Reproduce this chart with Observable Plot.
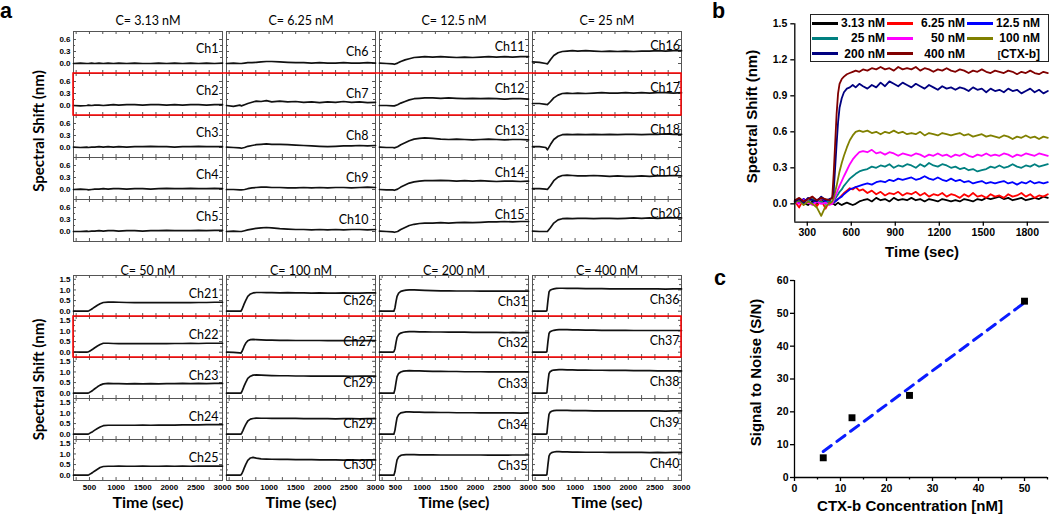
<!DOCTYPE html>
<html><head><meta charset="utf-8">
<script src="https://cdn.jsdelivr.net/npm/d3@7"></script>
<script src="https://cdn.jsdelivr.net/npm/@observablehq/plot@0.6"></script>
<style>
body{margin:0;background:#fff}
#root{position:relative;width:1050px;height:519px;overflow:hidden;background:#fff}
.pane{position:absolute}
.letter{position:absolute;font:bold 21.5px "Liberation Sans",Arial,sans-serif;line-height:1;color:#000}
#legend{position:absolute;left:810px;top:14px;width:239px;height:48px;border:1px solid #222;box-sizing:border-box;font:bold 12px "Liberation Sans",Arial,sans-serif;display:grid;grid-template-columns:75px 80px 75px;grid-auto-rows:15.3px;padding-top:0.5px;background:#fff}
.item{display:flex;align-items:center;justify-content:space-between;padding-right:1px}
.sw{width:26px;height:3px;margin-left:1px}
</style></head>
<body><div id="root">
<div id="aTop" class="pane" style="left:0;top:0"></div>
<div id="aBot" class="pane" style="left:0;top:245px"></div>
<div id="pB" class="pane" style="left:700px;top:0"></div>
<div id="pC" class="pane" style="left:700px;top:270px"></div>
<div id="legend"></div>
<div class="letter" style="left:0px;top:1.3px">a</div>
<div class="letter" style="left:712px;top:1px">b</div>
<div class="letter" style="left:714px;top:267.8px">c</div>
</div>
<script>
// ---------- Panel a data ----------
const colsTop = ["C= 3.13 nM", "C= 6.25 nM", "C= 12.5 nM", "C= 25 nM"];
const colsBot = ["C= 50 nM", "C= 100 nM", "C= 200 nM", "C= 400 nM"];
const chTop = [["Ch1","Ch2","Ch3","Ch4","Ch5"],["Ch6","Ch7","Ch8","Ch9","Ch10"],["Ch11","Ch12","Ch13","Ch14","Ch15"],["Ch16","Ch17","Ch18","Ch19","Ch20"]];
const chBot = [["Ch21","Ch22","Ch23","Ch24","Ch25"],["Ch26","Ch27","Ch29","Ch29","Ch30"],["Ch31","Ch32","Ch33","Ch34","Ch35"],["Ch36","Ch37","Ch38","Ch39","Ch40"]];
const yTicksTop = [0, 0.3, 0.6];
const yTicksBot = [0, 0.5, 1.0, 1.5];
const xTicksBot = [500, 1000, 1500, 2000, 2500, 3000];
const xTickMarks = [250, 500, 750, 1000, 1250, 1500, 1750, 2000, 2250, 2500, 2750];

const tA = [200, 330, 450, 480, 540, 600, 680, 760, 850, 950, 1050, 1200, 1350, 1500, 1650, 1800, 1950, 2100, 2250, 2400, 2550, 2700, 2850, 3000];
const traces313 = [
  [0.00,0.01,0.00,0.00,0.01,0.00,0.01,0.00,0.01,0.00,0.01,0.00,0.01,0.00,0.00,0.01,0.00,0.01,0.00,0.01,0.00,0.01,0.00,0.01],
  [0.00,-0.01,0.00,0.01,0.00,0.01,0.01,0.00,0.01,0.02,0.01,0.02,0.02,0.01,0.02,0.02,0.01,0.02,0.01,0.02,0.02,0.01,0.02,0.02],
  [0.01,0.00,0.01,0.00,0.01,0.01,0.02,0.01,0.02,0.01,0.02,0.01,0.02,0.02,0.03,0.02,0.02,0.01,0.02,0.02,0.03,0.02,0.02,0.02],
  [0.00,0.01,0.00,-0.01,0.00,0.01,0.01,0.02,0.01,0.02,0.02,0.01,0.02,0.02,0.01,0.02,0.03,0.02,0.02,0.03,0.02,0.02,0.03,0.02],
  [0.00,0.00,0.01,0.00,0.01,0.01,0.02,0.01,0.02,0.02,0.01,0.02,0.02,0.01,0.02,0.02,0.03,0.02,0.02,0.02,0.03,0.02,0.03,0.03]
];
const traces625 = [
  [0.00,0.01,0.00,0.00,0.01,0.02,0.02,0.03,0.04,0.05,0.05,0.04,0.03,0.02,0.02,0.01,0.02,0.01,0.01,0.02,0.01,0.01,0.02,0.01],
  [0.00,-0.02,0.01,-0.01,0.02,0.05,0.08,0.11,0.10,0.12,0.09,0.11,0.09,0.10,0.08,0.09,0.07,0.09,0.08,0.10,0.08,0.09,0.07,0.08],
  [0.01,0.00,-0.01,-0.02,0.00,0.03,0.05,0.07,0.08,0.09,0.08,0.08,0.07,0.06,0.05,0.04,0.03,0.02,0.03,0.04,0.04,0.05,0.04,0.05],
  [0.00,0.00,-0.01,-0.01,0.00,0.02,0.04,0.05,0.06,0.06,0.05,0.05,0.04,0.04,0.05,0.04,0.05,0.04,0.05,0.05,0.04,0.05,0.06,0.05],
  [0.00,0.01,0.00,0.00,0.02,0.04,0.06,0.08,0.09,0.10,0.09,0.07,0.06,0.05,0.05,0.04,0.05,0.04,0.05,0.04,0.05,0.05,0.04,0.05]
];
const traces125 = [
  [0.01,0.00,-0.01,-0.02,0.01,0.05,0.09,0.12,0.15,0.16,0.17,0.16,0.17,0.16,0.15,0.16,0.15,0.16,0.17,0.16,0.17,0.16,0.17,0.17],
  [0.00,0.00,-0.01,-0.01,0.02,0.06,0.10,0.14,0.17,0.18,0.19,0.19,0.18,0.19,0.18,0.17,0.18,0.17,0.18,0.17,0.16,0.17,0.17,0.16],
  [0.01,0.00,0.00,-0.01,0.02,0.07,0.12,0.17,0.21,0.23,0.24,0.23,0.21,0.20,0.21,0.20,0.19,0.20,0.21,0.20,0.19,0.20,0.20,0.19],
  [0.00,-0.01,-0.01,-0.02,0.01,0.06,0.11,0.16,0.19,0.21,0.22,0.22,0.23,0.22,0.21,0.22,0.21,0.22,0.21,0.20,0.21,0.21,0.20,0.21],
  [0.01,0.00,-0.01,-0.02,0.00,0.05,0.10,0.15,0.18,0.20,0.21,0.21,0.22,0.21,0.22,0.23,0.22,0.23,0.24,0.24,0.25,0.24,0.25,0.25]
];
const traces25 = [
  [0.04,0.03,0.00,-0.01,0.10,0.20,0.27,0.30,0.31,0.32,0.31,0.32,0.31,0.30,0.31,0.30,0.31,0.30,0.31,0.31,0.32,0.31,0.32,0.32],
  [0.05,0.05,0.03,0.02,0.10,0.19,0.26,0.30,0.31,0.30,0.31,0.30,0.31,0.32,0.31,0.31,0.32,0.31,0.32,0.31,0.32,0.32,0.31,0.32],
  [0.02,0.02,0.00,-0.06,0.08,0.20,0.28,0.32,0.33,0.32,0.33,0.32,0.33,0.32,0.33,0.32,0.33,0.33,0.32,0.33,0.33,0.34,0.33,0.33],
  [0.02,0.02,0.01,0.00,0.10,0.22,0.31,0.35,0.36,0.35,0.34,0.34,0.35,0.34,0.33,0.34,0.33,0.33,0.34,0.33,0.34,0.34,0.35,0.34],
  [0.01,0.00,0.00,0.00,0.10,0.21,0.29,0.32,0.33,0.32,0.33,0.33,0.32,0.33,0.33,0.32,0.33,0.34,0.33,0.34,0.33,0.34,0.34,0.34]
];

const tB = [200, 330, 450, 470, 490, 510, 530, 560, 600, 650, 700, 760, 850, 950, 1050, 1200, 1350, 1500, 1650, 1800, 1950, 2100, 2250, 2400, 2550, 2700, 2850, 3000];
const traces50 = [
  [0.00,0.01,0.00,0.00,0.02,0.05,0.08,0.13,0.20,0.28,0.35,0.41,0.43,0.43,0.42,0.41,0.40,0.40,0.40,0.40,0.40,0.40,0.41,0.40,0.41,0.41,0.42,0.42],
  [0.01,0.00,0.00,0.01,0.03,0.06,0.09,0.14,0.21,0.29,0.36,0.42,0.42,0.41,0.40,0.40,0.41,0.40,0.40,0.41,0.40,0.41,0.41,0.42,0.41,0.42,0.42,0.42],
  [0.00,0.00,0.01,0.00,0.02,0.05,0.08,0.13,0.21,0.30,0.38,0.44,0.46,0.45,0.45,0.44,0.45,0.44,0.45,0.44,0.45,0.45,0.46,0.45,0.46,0.45,0.46,0.46],
  [0.00,0.00,0.00,0.00,0.02,0.05,0.08,0.12,0.19,0.27,0.34,0.40,0.42,0.42,0.42,0.42,0.42,0.43,0.42,0.43,0.43,0.43,0.44,0.44,0.44,0.45,0.45,0.45],
  [0.00,0.00,0.00,0.00,0.02,0.05,0.08,0.13,0.20,0.28,0.36,0.41,0.42,0.42,0.43,0.42,0.42,0.43,0.42,0.42,0.43,0.42,0.43,0.42,0.43,0.43,0.43,0.43]
];
const traces100 = [
  [0.00,0.01,0.00,0.00,0.08,0.20,0.33,0.50,0.70,0.81,0.86,0.88,0.88,0.87,0.87,0.86,0.87,0.86,0.86,0.85,0.86,0.85,0.85,0.86,0.85,0.85,0.86,0.86],
  [0.00,-0.01,-0.03,-0.05,0.03,0.14,0.27,0.42,0.54,0.59,0.60,0.59,0.58,0.57,0.57,0.56,0.56,0.55,0.55,0.55,0.55,0.54,0.55,0.54,0.54,0.55,0.54,0.55],
  [0.00,0.00,0.00,0.00,0.08,0.20,0.33,0.50,0.70,0.80,0.85,0.86,0.85,0.84,0.83,0.82,0.82,0.81,0.81,0.80,0.81,0.80,0.80,0.80,0.79,0.80,0.80,0.80],
  [0.00,0.00,0.00,0.00,0.07,0.18,0.30,0.45,0.62,0.71,0.74,0.76,0.75,0.75,0.74,0.74,0.74,0.74,0.73,0.73,0.73,0.73,0.72,0.73,0.73,0.72,0.73,0.73],
  [0.00,0.00,0.00,0.01,0.08,0.19,0.32,0.50,0.70,0.81,0.84,0.80,0.77,0.76,0.75,0.74,0.74,0.73,0.73,0.73,0.72,0.72,0.72,0.71,0.72,0.71,0.72,0.72]
];
const traces200 = [
  [0.00,0.00,0.00,0.00,0.15,0.45,0.70,0.85,0.93,0.97,0.99,1.00,1.00,0.99,0.98,0.97,0.96,0.96,0.95,0.95,0.95,0.94,0.95,0.94,0.94,0.94,0.94,0.94],
  [0.00,0.01,0.00,0.02,0.15,0.45,0.70,0.83,0.90,0.94,0.96,0.97,0.97,0.96,0.96,0.95,0.95,0.94,0.94,0.94,0.93,0.93,0.93,0.93,0.92,0.93,0.92,0.92],
  [0.00,0.00,0.00,0.00,0.18,0.50,0.78,0.93,1.00,1.04,1.05,1.06,1.05,1.05,1.04,1.03,1.03,1.02,1.02,1.01,1.01,1.01,1.00,1.00,1.00,1.00,1.00,1.00],
  [0.00,0.00,0.00,0.00,0.18,0.50,0.78,0.92,1.00,1.03,1.05,1.05,1.04,1.04,1.03,1.03,1.02,1.02,1.01,1.01,1.01,1.00,1.00,1.00,1.00,1.00,0.99,1.00],
  [0.00,0.00,0.00,0.00,0.16,0.46,0.72,0.86,0.93,0.96,0.97,0.97,0.97,0.96,0.96,0.96,0.95,0.95,0.95,0.95,0.95,0.95,0.94,0.95,0.94,0.95,0.95,0.95]
];
const traces400 = [
  [0.00,0.00,0.00,0.02,0.50,0.90,0.98,1.02,1.05,1.07,1.08,1.08,1.07,1.07,1.07,1.06,1.06,1.06,1.05,1.05,1.05,1.05,1.05,1.05,1.05,1.04,1.05,1.05],
  [0.00,0.00,0.00,0.02,0.50,0.88,0.96,1.00,1.03,1.05,1.06,1.06,1.06,1.05,1.05,1.04,1.04,1.03,1.03,1.03,1.03,1.02,1.02,1.02,1.02,1.02,1.02,1.02],
  [0.00,0.00,0.00,0.02,0.52,0.92,1.01,1.06,1.09,1.10,1.11,1.11,1.10,1.10,1.09,1.09,1.08,1.08,1.07,1.07,1.07,1.06,1.06,1.06,1.05,1.05,1.05,1.05],
  [0.00,0.00,0.00,0.02,0.52,0.93,1.03,1.08,1.11,1.12,1.12,1.12,1.12,1.11,1.11,1.11,1.10,1.10,1.10,1.10,1.10,1.10,1.10,1.10,1.10,1.09,1.10,1.10],
  [0.00,0.00,0.00,0.02,0.50,0.90,1.00,1.06,1.09,1.11,1.11,1.10,1.10,1.09,1.09,1.08,1.08,1.08,1.07,1.07,1.07,1.07,1.07,1.06,1.07,1.06,1.07,1.07]
];

// ---------- Panel b data ----------
const bNames = ["3.13 nM", "6.25 nM", "12.5 nM", "25 nM", "50 nM", "100 nM", "200 nM", "400 nM"];
const bColors = ["#000000", "#ff0000", "#0000ff", "#008080", "#ff00ff", "#808000", "#000080", "#800000"];
const bXTicks = [300, 600, 900, 1200, 1500, 1800];
const bYTicks = [0, 0.3, 0.6, 0.9, 1.2, 1.5];
const tb = [215,245,275,305,335,365,395,425,450,470, 480,490,500,510,520,535,550,570,590,610, 630,655,680,
  710,740,770,800,830,860,890,920,950,980, 1010,1040,1070,1100,1130,1160,1190,1220,1250,1280,
  1310,1340,1370,1400,1430,1460,1490,1520,1550,1580, 1610,1640,1670,1700,1730,1760,1790,1820,1850,1880, 1910,1940];
const s313 = [0.02,0.03,0.01,-0.01,0.02,0.00,0.03,0.01,0.02,0.00, 0.00,-0.01,0.00,0.01,0.00,-0.01,0.00,0.01,0.00,-0.01, 0.00,0.02,0.03,
  0.04,0.02,0.05,0.03,0.04,0.02,0.05,0.03,0.04,0.03, 0.05,0.03,0.04,0.02,0.04,0.03,0.02,0.04,0.03,0.02,
  0.03,0.02,0.04,0.03,0.02,0.04,0.03,0.05,0.04,0.05, 0.06,0.04,0.05,0.03,0.04,0.05,0.03,0.04,0.05,0.04, 0.06,0.05];
const s625 = [0.02,-0.03,0.04,0.01,0.06,-0.02,0.03,-0.04,0.02,0.00, 0.01,0.02,0.03,0.04,0.05,0.07,0.09,0.11,0.13,0.12, 0.14,0.11,0.12,
  0.09,0.11,0.08,0.10,0.07,0.09,0.08,0.10,0.07,0.09, 0.08,0.10,0.07,0.09,0.06,0.08,0.07,0.09,0.06,0.08,
  0.07,0.05,0.08,0.06,0.09,0.06,0.07,0.05,0.08,0.06, 0.07,0.05,0.08,0.06,0.07,0.09,0.06,0.08,0.05,0.07, 0.06,0.08];
const s125 = [0.03,0.01,0.04,0.02,0.00,0.03,0.05,0.02,0.03,0.01, 0.01,0.02,0.03,0.04,0.05,0.06,0.08,0.10,0.12,0.13, 0.14,0.15,0.16,
  0.17,0.16,0.18,0.19,0.18,0.20,0.19,0.21,0.20,0.21, 0.22,0.20,0.21,0.23,0.21,0.20,0.22,0.20,0.19,0.21,
  0.19,0.20,0.18,0.19,0.17,0.18,0.19,0.17,0.18,0.17, 0.18,0.19,0.17,0.18,0.16,0.18,0.17,0.19,0.17,0.18, 0.17,0.18];
const s25 = [0.01,0.03,0.00,0.02,0.04,0.01,0.02,0.00,0.03,0.01, 0.02,0.04,0.06,0.08,0.10,0.12,0.15,0.18,0.21,0.23, 0.25,0.27,0.28,
  0.29,0.31,0.30,0.32,0.31,0.33,0.30,0.32,0.31,0.33, 0.32,0.30,0.33,0.31,0.34,0.32,0.31,0.33,0.32,0.30,
  0.31,0.29,0.30,0.28,0.29,0.27,0.28,0.29,0.31,0.30, 0.32,0.30,0.31,0.33,0.31,0.30,0.32,0.31,0.33,0.31, 0.32,0.33];
const s50 = [0.02,0.00,0.03,0.01,-0.01,0.02,0.00,0.01,-0.01,0.00, 0.03,0.06,0.09,0.12,0.15,0.19,0.23,0.28,0.33,0.37, 0.40,0.43,0.44,
  0.43,0.45,0.42,0.43,0.41,0.43,0.42,0.40,0.42,0.41, 0.40,0.42,0.41,0.39,0.41,0.40,0.42,0.40,0.41,0.39,
  0.41,0.40,0.42,0.40,0.39,0.41,0.40,0.42,0.40,0.41, 0.40,0.42,0.41,0.39,0.41,0.40,0.42,0.41,0.40,0.42, 0.41,0.40];
const s100 = [0.01,0.03,-0.01,0.02,0.00,-0.03,-0.10,-0.02,0.00,0.02, 0.05,0.10,0.15,0.21,0.27,0.34,0.40,0.47,0.53,0.57, 0.60,0.61,0.60,
  0.61,0.59,0.60,0.58,0.60,0.59,0.61,0.59,0.60,0.58, 0.59,0.58,0.60,0.57,0.59,0.58,0.57,0.59,0.58,0.57,
  0.58,0.59,0.57,0.58,0.56,0.57,0.58,0.56,0.57,0.56, 0.55,0.57,0.56,0.54,0.56,0.55,0.57,0.55,0.56,0.54, 0.56,0.55];
const s200 = [0.02,0.04,0.01,0.05,0.03,0.02,0.06,0.03,0.04,0.05, 0.10,0.30,0.50,0.68,0.80,0.88,0.93,0.96,0.97,0.99, 0.97,1.00,0.98,
  0.96,0.99,0.97,1.01,0.98,1.02,1.00,0.98,1.01,0.99, 0.97,1.00,0.98,0.96,0.99,0.97,0.95,0.98,0.96,0.97,
  0.95,0.97,0.96,0.94,0.97,0.95,0.96,0.93,0.96,0.94, 0.95,0.93,0.96,0.94,0.95,0.92,0.94,0.96,0.93,0.95, 0.92,0.94];
const s400 = [0.03,0.05,0.02,0.04,0.06,0.03,0.05,0.04,0.03,0.05, 0.25,0.50,0.75,0.92,1.00,1.04,1.06,1.08,1.09,1.10, 1.11,1.10,1.12,
  1.11,1.13,1.12,1.14,1.12,1.13,1.11,1.14,1.12,1.13, 1.12,1.14,1.11,1.13,1.12,1.10,1.12,1.11,1.13,1.11,
  1.10,1.12,1.11,1.09,1.11,1.10,1.12,1.10,1.09,1.11, 1.10,1.09,1.11,1.10,1.08,1.10,1.09,1.11,1.09,1.08, 1.10,1.09];
const bSeries = [s313, s625, s125, s25, s50, s100, s200, s400];

// ---------- Panel c data ----------
const cConc = [6.25, 12.5, 25, 50];
const cSN = [6, 18.2, 25, 53.7];
const cXTicks = [0, 10, 20, 30, 40, 50];
const cXMinor = [5, 15, 25, 35, 45, 55];
const cYTicks = [0, 10, 20, 30, 40, 50, 60];

// ---------- helpers ----------
const FA = "Lato, 'Noto Sans', sans-serif";
const FB = "'Liberation Sans', Arial, sans-serif";
const FRAME = "#555";
const fmtInt = d3.format("d");

function gridRows(cols, chs, times, traceCols) {
  const rows = [], labels = [];
  traceCols.forEach((col, c) => col.forEach((vals, r) => {
    vals.forEach((v, i) => rows.push({col: cols[c], row: r, t: times[i], v}));
    labels.push({col: cols[c], row: r, ch: chs[c][r], ci: c});
  }));
  return {rows, labels};
}

function gridPlot(opt) {
  const {cols, chs, times, traceCols, yDomain, yTicks, yMinor, width, height, mt, mb, ml, mr, rowH, showX, chPos, titleDy, ylabDy} = opt;
  const {rows, labels} = gridRows(cols, chs, times, traceCols);
  const xDomain = [200, 3000];
  const bw = (width - ml - mr) / (4 + 3 * 0.029 / (1 - 0.029));
  const dyT = 3 * (yDomain[1] - yDomain[0]) / rowH;
  const dxT = 3 * (xDomain[1] - xDomain[0]) / bw, dxM = 2 * (xDomain[1] - xDomain[0]) / bw;
  const marks = [
    Plot.frame({stroke: FRAME, strokeWidth: 1}),
    Plot.ruleX(xTickMarks, {x: d => d, y1: yDomain[0], y2: yDomain[0] + dyT, stroke: FRAME}),
    Plot.ruleX(xTickMarks, {x: d => d, y1: yDomain[1] - dyT, y2: yDomain[1], stroke: FRAME}),
    Plot.ruleY(yTicks, {y: d => d, x1: xDomain[0], x2: xDomain[0] + dxT, stroke: FRAME}),
    Plot.ruleY(yTicks, {y: d => d, x1: xDomain[1] - dxT, x2: xDomain[1], stroke: FRAME}),
    Plot.ruleY(yMinor, {y: d => d, x1: xDomain[0], x2: xDomain[0] + dxM, stroke: FRAME}),
    Plot.ruleY(yMinor, {y: d => d, x1: xDomain[1] - dxM, x2: xDomain[1], stroke: FRAME}),
    Plot.line(rows, {x: "t", y: "v", fx: "col", fy: "row", stroke: "#111", strokeWidth: 1.7}),
    Plot.axisY(yTicks, {tickSize: 0, tickPadding: 3, tickFormat: d3.format(".1f"), fontSize: 8, fontWeight: "bold", fontFamily: FB, label: null}),
    Plot.text(cols, {fx: d => d, fy: () => 0, text: d => d, frameAnchor: "top", textAnchor: "middle", dy: titleDy, fontSize: 12.5, fontFamily: FA}),
    Plot.text(["Spectral Shift (nm)"], {fx: () => cols[0], fy: () => 2, text: d => d, frameAnchor: "left", textAnchor: "middle", rotate: -90, dx: -34, dy: ylabDy, fontSize: 15, fontWeight: "bold", fontFamily: FA})
  ];
  // channel labels: one mark per column (each column has its own label placement)
  chPos.forEach((pos, c) => {
    marks.push(Plot.text(labels.filter(d => d.ci === c), {
      fx: "col", fy: "row", text: "ch", frameAnchor: pos.anchor, textAnchor: "end",
      dx: pos.dx, dy: pos.dy, fontSize: 12.5, fontFamily: FA
    }));
  });
  if (showX) {
    marks.push(Plot.axisX(xTicksBot, {anchor: "bottom", tickSize: 0, tickPadding: 3.5, tickFormat: fmtInt, fontSize: 8, fontWeight: "bold", fontFamily: FB, label: null}));
    marks.push(Plot.text(cols, {fx: d => d, fy: () => 4, text: () => "Time (sec)", frameAnchor: "bottom", textAnchor: "middle", dy: 27.6, fontSize: 16, fontWeight: "bold", fontFamily: FA}));
  }
  const p = Plot.plot({
    width, height, marginTop: mt, marginBottom: mb, marginLeft: ml, marginRight: mr,
    style: {fontFamily: FA, background: "transparent", overflow: "visible"},
    x: {domain: xDomain, ...(showX ? {} : {axis: null})},
    y: {domain: yDomain},
    fx: {domain: cols, paddingInner: 0.029, paddingOuter: 0, axis: null},
    fy: {domain: [0, 1, 2, 3, 4], padding: 0, axis: null},
    marks
  });
  // red highlight box around the second row of channels
  try {
    const fx = p.scale("fx"), fy = p.scale("fy");
    const x0 = fx.apply(cols[0]), x1 = fx.apply(cols[3]) + fx.bandwidth;
    const y0 = fy.apply(1), h = fy.bandwidth;
    d3.select(p).append("rect").attr("x", x0).attr("y", y0).attr("width", x1 - x0).attr("height", h)
      .attr("fill", "none").attr("stroke", "#ff0000").attr("stroke-width", 1.5);
  } catch (e) {}
  return p;
}

document.getElementById("aTop").append(gridPlot({
  cols: colsTop, chs: chTop, times: tA, traceCols: [traces313, traces625, traces125, traces25],
  yDomain: [-0.25, 0.8], yTicks: yTicksTop, yMinor: [0.15, 0.45],
  width: 700, height: 245, mt: 30.5, mb: 4.5, ml: 72.3, mr: 18.3, rowH: 42,
  showX: false, titleDy: -15.5, ylabDy: -5.5,
  chPos: [
    {anchor: "top-right", dx: -4, dy: 12.5},
    {anchor: "top-right", dx: -7, dy: 16},
    {anchor: "top-right", dx: -4, dy: 10.5},
    {anchor: "top-right", dx: -1.5, dy: 9.5}
  ]
}));
document.getElementById("aBot").append(gridPlot({
  cols: colsBot, chs: chBot, times: tB, traceCols: [traces50, traces100, traces200, traces400],
  yDomain: [-0.25, 1.68], yTicks: yTicksBot, yMinor: [0.25, 0.75, 1.25],
  width: 700, height: 274, mt: 28.2, mb: 37.3, ml: 72.3, mr: 18.3, rowH: 41.7,
  showX: true, titleDy: -9.5, ylabDy: 1.5,
  chPos: [
    {anchor: "top-right", dx: -4, dy: 13.5},
    {anchor: "bottom-right", dx: -2.5, dy: -11.5},
    {anchor: "bottom-right", dx: -1, dy: -10.5},
    {anchor: "bottom-right", dx: -2, dy: -12.5}
  ]
}));

// ---------- Panel b ----------
const bRows = [];
bSeries.forEach((vals, k) => vals.forEach((v, i) => bRows.push({name: bNames[k], t: tb[i], v})));
const bX = [215, 1950], bY = [-0.153, 1.5];
document.getElementById("pB").append(Plot.plot({
  width: 350, height: 270, marginLeft: 94.3, marginRight: 1.2, marginTop: 23.3, marginBottom: 48.3,
  style: {fontFamily: FB, background: "transparent", overflow: "visible"},
  x: {domain: bX}, y: {domain: bY},
  color: {domain: bNames, range: bColors},
  marks: [
    Plot.line(bRows, {x: "t", y: "v", z: "name", stroke: "name", strokeWidth: 1.8}),
    Plot.ruleY([bY[0]], {stroke: "#000", strokeWidth: 1.3}),
    Plot.ruleX([bX[0]], {stroke: "#000", strokeWidth: 1.3}),
    Plot.axisX(bXTicks, {tickSize: 4, tickPadding: 2.5, strokeWidth: 1.3, tickFormat: fmtInt, fontSize: 10.5, fontWeight: "bold", label: null}),
    Plot.axisY(bYTicks, {tickSize: 4, tickPadding: 3.5, strokeWidth: 1.3, tickFormat: d3.format(".1f"), fontSize: 10.5, fontWeight: "bold", label: null}),
    Plot.text(["Spectral Shift (nm)"], {text: d => d, frameAnchor: "left", textAnchor: "middle", rotate: -90, dx: -42.6, dy: -6.5, fontSize: 15, fontWeight: "bold"}),
    Plot.text(["Time (sec)"], {text: d => d, frameAnchor: "bottom", textAnchor: "middle", dy: 34.3, fontSize: 15, fontWeight: "bold"})
  ]
}));

// legend for panel b
const legendLabels = [...bNames, "[CTX-b]"];
const leg = d3.select("#legend");
legendLabels.forEach((lab, i) => {
  const it = leg.append("div").attr("class", "item");
  if (i < bColors.length) it.append("span").attr("class", "sw").style("background", bColors[i]);
  else it.append("span");
  const tx = it.append("span");
  if (lab.startsWith("[")) { tx.append("span").style("font-size", "9px").text("["); tx.append("span").text(lab.slice(1)); }
  else tx.text(lab);
});

// ---------- Panel c ----------
const cRows = cConc.map((x, i) => ({x, y: cSN[i]}));
const cX = [0, 55], cY = [0, 60];
document.getElementById("pC").append(Plot.plot({
  width: 350, height: 249, marginLeft: 94, marginRight: 3, marginTop: 10, marginBottom: 42,
  style: {fontFamily: FB, background: "transparent", overflow: "visible"},
  x: {domain: cX}, y: {domain: cY},
  marks: [
    Plot.ruleY([cY[0]], {stroke: "#000", strokeWidth: 1.3}),
    Plot.ruleX([cX[0]], {stroke: "#000", strokeWidth: 1.3}),
    Plot.axisX(cXTicks, {tickSize: 4, tickPadding: 2.7, strokeWidth: 1.3, fontSize: 10.5, fontWeight: "bold", label: null}),
    Plot.axisX(cXMinor, {tickSize: 2.5, strokeWidth: 1.3, text: null, label: null}),
    Plot.axisY(cYTicks, {tickSize: 4, tickPadding: 2, strokeWidth: 1.3, fontSize: 10.5, fontWeight: "bold", label: null}),
    Plot.linearRegressionY(cRows, {x: "x", y: "y", stroke: "#0a1cff", strokeWidth: 3, strokeDasharray: "10,7", ci: 0}),
    Plot.dot(cRows, {x: "x", y: "y", symbol: "square", fill: "#000", r: 3.9}),
    Plot.text(["Signal to Noise (S/N)"], {text: d => d, frameAnchor: "left", textAnchor: "middle", rotate: -90, dx: -38, dy: -6.5, fontSize: 15, fontWeight: "bold"}),
    Plot.text(["CTX-b Concentration [nM]"], {text: d => d, frameAnchor: "bottom", textAnchor: "middle", dx: -11, dy: 33.7, fontSize: 15, fontWeight: "bold"})
  ]
}));
</script>
</body></html>
